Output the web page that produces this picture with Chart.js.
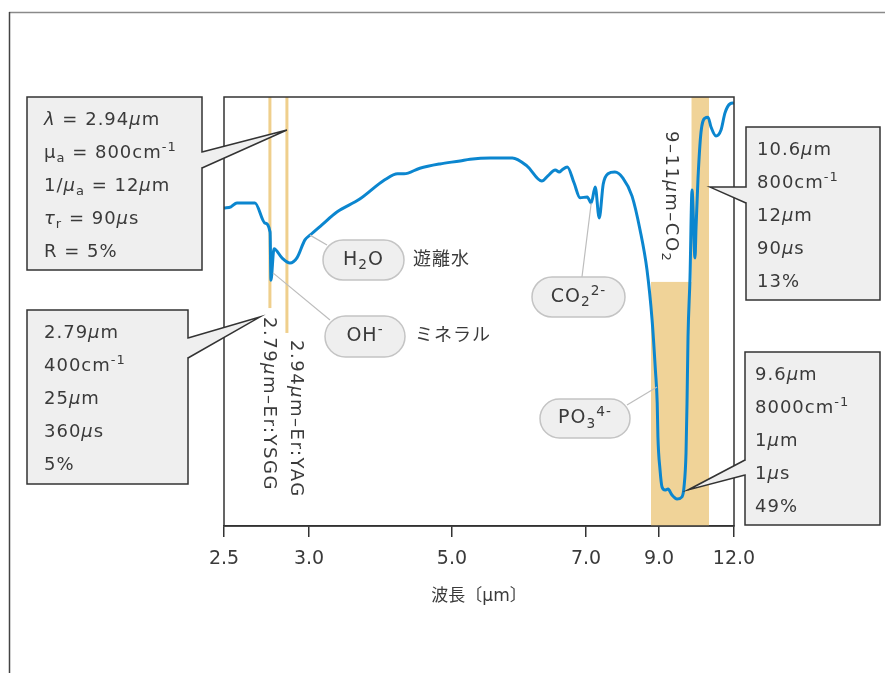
<!DOCTYPE html>
<html>
<head>
<meta charset="utf-8">
<script src="https://cdn.jsdelivr.net/npm/chart.js"></script>
<style>
html, body { margin: 0; padding: 0; background: #fff; }
canvas { display: block; }
</style>
</head>
<body>
<canvas id="chart" width="885" height="673"></canvas>
<script>
// x axis (wavelength, µm) - the axis is not linear in the original
const tickVals = [2.5, 3.0, 5.0, 7.0, 9.0, 12.0];
const tickLabels = ['2.5', '3.0', '5.0', '7.0', '9.0', '12.0'];

// spectrum: wavelength (µm) and relative level (0-100)
const wavelength = [2.50, 2.541, 2.576, 2.682, 2.741, 2.771, 2.776, 2.794, 2.841, 2.888,
  2.929, 2.976, 3.014, 3.18, 3.39, 3.71, 4.06, 4.24, 4.33, 4.55,
  4.83, 5.12, 5.27, 5.57, 5.90, 6.12, 6.34, 6.43, 6.54, 6.60,
  6.64, 6.72, 6.82, 6.91, 7.03, 7.14, 7.25, 7.36, 7.47, 7.60,
  7.79, 8.01, 8.26, 8.48, 8.67, 8.81, 8.90, 8.95, 8.97, 9.04,
  9.12, 9.24, 9.36, 9.52, 9.72, 9.92, 10.00, 10.08, 10.12, 10.16,
  10.24, 10.32, 10.44, 10.48, 10.56, 10.68, 10.84, 10.96, 11.08, 11.28,
  11.48, 11.64, 11.84, 12.0];
const level = [74.1, 74.4, 75.3, 75.3, 70.6, 68.5, 57.3, 64.6, 62.5, 61.3,
  62.5, 66.7, 67.8, 70.2, 73.2, 76.2, 80.7, 82.1, 82.1, 83.4,
  84.4, 85.1, 85.5, 85.8, 85.8, 83.9, 80.4, 81.6, 83.0, 82.5,
  83.0, 83.7, 80.0, 76.5, 76.7, 75.3, 79.0, 71.8, 79.7, 82.1,
  82.5, 81.1, 76.9, 69.0, 59.7, 48.0, 36.4, 28.7, 20.7, 13.1,
  9.1, 8.4, 8.6, 7.2, 6.3, 6.8, 9.1, 17.0, 28.7, 44.1,
  58.0, 78.3, 62.5, 69.5, 81.1, 91.8, 95.1, 95.3, 93.0, 90.9,
  92.3, 96.3, 98.4, 98.6];

// laser lines (µm) and how far down they reach (level)
const laserLines = [2.77, 2.87];
const laserLow = [50.8, 45.0];
// shaded bands (µm)
const co2Band = [10.3, 11.0];
const po3Band = [8.78, 11.0];
const po3Top = 56.9;

// where each tick sits along the axis (0..1)
const axisFrac = [0, 0.1667, 0.447, 0.710, 0.853, 1];

const FONT = "'DejaVu Sans', 'Noto Sans CJK JP', sans-serif";
const TEXT = '#3a3a3a';
const BAND = '#f0d398';
const BOXFILL = '#efefef';

function warp(v) {
  for (let i = 0; i < tickVals.length - 1; i++) {
    if (v <= tickVals[i + 1] || i === tickVals.length - 2) {
      const t = (v - tickVals[i]) / (tickVals[i + 1] - tickVals[i]);
      return axisFrac[i] + t * (axisFrac[i + 1] - axisFrac[i]);
    }
  }
}
function unwarp(f) {
  for (let i = 0; i < axisFrac.length - 1; i++) {
    if (f <= axisFrac[i + 1] || i === axisFrac.length - 2) {
      const t = (f - axisFrac[i]) / (axisFrac[i + 1] - axisFrac[i]);
      return tickVals[i] + t * (tickVals[i + 1] - tickVals[i]);
    }
  }
}

const Linear = Chart.LinearScale || Chart.registry.getScale('linear');
class WarpScale extends Linear {
  getPixelForValue(v) { return v == null ? NaN : this.getPixelForDecimal(warp(v)); }
  getValueForPixel(p) { return unwarp(this.getDecimalForPixel(p)); }
}
WarpScale.id = 'warp';
Chart.register(WarpScale);

// tiny rich text: {i:x} italic, {_:x} subscript, {^:x} superscript
function parseRich(s) {
  const out = [], re = /\{([i_^]):([^}]*)\}/g;
  let last = 0, m;
  while ((m = re.exec(s))) {
    if (m.index > last) out.push({ t: s.slice(last, m.index), k: '' });
    out.push({ t: m[2], k: m[1] });
    last = re.lastIndex;
  }
  if (last < s.length) out.push({ t: s.slice(last), k: '' });
  return out;
}
function segFont(k, size) {
  const sz = (k === '_' || k === '^') ? size * 0.72 : size;
  return (k === 'i' ? 'italic ' : '') + sz.toFixed(1) + 'px ' + FONT;
}
function richWidth(ctx, s, size) {
  return parseRich(s).reduce((w, p) => { ctx.font = segFont(p.k, size); return w + ctx.measureText(p.t).width; }, 0);
}
function drawRich(ctx, x, y, s, size, align) {
  let cx = align === 'center' ? x - richWidth(ctx, s, size) / 2 : x;
  ctx.textBaseline = 'middle';
  ctx.textAlign = 'left';
  parseRich(s).forEach(p => {
    ctx.font = segFont(p.k, size);
    const dy = p.k === '_' ? size * 0.3 : p.k === '^' ? -size * 0.3 : 0;
    ctx.fillText(p.t, cx, y + dy);
    cx += ctx.measureText(p.t).width;
  });
}

const boxes = [
  { x: 27, y: 97, w: 175, h: 173, side: 'right', b1: 152, b2: 168, tip: [2.87, 92.3], pad: 17,
    lines: ['{i:λ} = 2.94{i:µ}m', 'µ{_:a} = 800cm{^:-1}', '1/{i:µ}{_:a} = 12{i:µ}m', '{i:τ}{_:r} = 90{i:µ}s', 'R = 5%'] },
  { x: 27, y: 310, w: 161, h: 174, side: 'right', b1: 338, b2: 358, tip: [2.71, 48.7], pad: 17,
    lines: ['2.79{i:µ}m', '400cm{^:-1}', '25{i:µ}m', '360{i:µ}s', '5%'] },
  { x: 746, y: 127, w: 134, h: 173, side: 'left', b1: 187, b2: 203, tip: [11.04, 79.0], pad: 11,
    lines: ['10.6{i:µ}m', '800cm{^:-1}', '12{i:µ}m', '90{i:µ}s', '13%'] },
  { x: 745, y: 352, w: 135, h: 173, side: 'left', b1: 460, b2: 475, tip: [10.16, 8.4], pad: 10,
    lines: ['9.6{i:µ}m', '8000cm{^:-1}', '1{i:µ}m', '1{i:µ}s', '49%'] }
];

const pills = [
  { cx: 363.5, cy: 260, w: 81, h: 40, text: 'H{_:2}O', note: '遊離水', nx: 413, from: [3.014, 67.8], to: [327, 245] },
  { cx: 365, cy: 336.5, w: 80, h: 41, text: 'OH{^:-}', note: 'ミネラル', nx: 415, from: [2.788, 59.0], to: [330, 320] },
  { cx: 578.5, cy: 297, w: 93, h: 40, text: 'CO{_:2}{^:2-}', from: [7.14, 75.3], to: [582, 277] },
  { cx: 585, cy: 418.5, w: 90, h: 39, text: 'PO{_:3}{^:4-}', from: [8.945, 32.4], to: [627, 405] }
];

const sideLabels = [
  { x: 268.5, y: 317, text: '2.79{i:µ}m–Er:YSGG' },
  { x: 296, y: 340, text: '2.94{i:µ}m–Er:YAG' },
  { x: 671, y: 131, text: '9–11{i:µ}m–CO{_:2}' }
];

const decor = {
  id: 'decor',
  beforeDatasetsDraw(chart) {
    const { ctx, chartArea: a, scales: { x, y } } = chart;
    ctx.save();
    ctx.fillStyle = BAND;
    const p1 = x.getPixelForValue(po3Band[0]), p2 = x.getPixelForValue(po3Band[1]);
    const pt = y.getPixelForValue(po3Top);
    ctx.fillRect(p1, pt, p2 - p1, a.bottom - pt);
    const c1 = x.getPixelForValue(co2Band[0]), c2 = x.getPixelForValue(co2Band[1]);
    ctx.fillRect(c1, a.top, c2 - c1, a.bottom - a.top);
    ctx.strokeStyle = '#efcf8c';
    ctx.lineWidth = 3;
    laserLines.forEach((w, i) => {
      const px = x.getPixelForValue(w);
      ctx.beginPath();
      ctx.moveTo(px, a.top);
      ctx.lineTo(px, y.getPixelForValue(laserLow[i]));
      ctx.stroke();
    });
    ctx.restore();
  },
  afterDraw(chart) {
    const { ctx, chartArea: a, scales: { x, y } } = chart;
    ctx.save();
    // plot frame
    ctx.strokeStyle = '#333';
    ctx.lineWidth = 1.5;
    ctx.strokeRect(a.left, a.top, a.right - a.left, a.bottom - a.top);
    // page frame
    ctx.strokeStyle = '#8a8a8a';
    ctx.beginPath(); ctx.moveTo(9, 12.5); ctx.lineTo(885, 12.5); ctx.stroke();
    ctx.strokeStyle = '#444';
    ctx.beginPath(); ctx.moveTo(9.5, 12); ctx.lineTo(9.5, 673); ctx.stroke();

    // side labels, rotated
    ctx.fillStyle = TEXT;
    ctx.letterSpacing = '1.5px';
    sideLabels.forEach(l => {
      ctx.save();
      ctx.translate(l.x, l.y);
      ctx.rotate(Math.PI / 2);
      drawRich(ctx, 0, 0, l.text, 18, 'left');
      ctx.restore();
    });
    ctx.letterSpacing = '1px';

    // pills with leader lines
    pills.forEach(p => {
      ctx.strokeStyle = '#bdbdbd';
      ctx.lineWidth = 1.2;
      ctx.beginPath();
      ctx.moveTo(x.getPixelForValue(p.from[0]), y.getPixelForValue(p.from[1]));
      ctx.lineTo(p.to[0], p.to[1]);
      ctx.stroke();
    });
    pills.forEach(p => {
      ctx.beginPath();
      ctx.roundRect(p.cx - p.w / 2, p.cy - p.h / 2, p.w, p.h, p.h / 2);
      ctx.fillStyle = BOXFILL;
      ctx.fill();
      ctx.strokeStyle = '#c4c4c4';
      ctx.lineWidth = 1.5;
      ctx.stroke();
      ctx.fillStyle = TEXT;
      drawRich(ctx, p.cx, p.cy, p.text, 19, 'center');
      if (p.note) drawRich(ctx, p.nx, p.cy, p.note, 18, 'left');
    });

    // callout boxes
    boxes.forEach(b => {
      const ex = b.side === 'right' ? b.x + b.w : b.x;
      const tx = x.getPixelForValue(b.tip[0]), ty = y.getPixelForValue(b.tip[1]);
      ctx.fillStyle = BOXFILL;
      ctx.fillRect(b.x, b.y, b.w, b.h);
      ctx.strokeStyle = '#333';
      ctx.lineWidth = 1.5;
      ctx.strokeRect(b.x, b.y, b.w, b.h);
      ctx.beginPath();
      ctx.moveTo(ex, b.b1); ctx.lineTo(tx, ty); ctx.lineTo(ex, b.b2); ctx.closePath();
      ctx.fill();
      ctx.fillRect(ex - 1.5, b.b1 + 0.8, 3, b.b2 - b.b1 - 1.6);
      ctx.beginPath();
      ctx.moveTo(ex, b.b1); ctx.lineTo(tx, ty); ctx.lineTo(ex, b.b2);
      ctx.stroke();
      ctx.fillStyle = TEXT;
      b.lines.forEach((s, i) => drawRich(ctx, b.x + b.pad, b.y + 23 + i * 33, s, 18, 'left'));
    });
    ctx.restore();
  }
};

Chart.defaults.font.family = FONT;
Chart.defaults.color = TEXT;

new Chart(document.getElementById('chart'), {
  type: 'line',
  data: {
    datasets: [{
      data: wavelength.map((w, i) => ({ x: w, y: level[i] })),
      borderColor: '#0b86cf',
      borderWidth: 3,
      pointRadius: 0,
      cubicInterpolationMode: 'monotone',
      fill: false
    }]
  },
  options: {
    responsive: false,
    animation: false,
    layout: { padding: { left: 224, right: 151, top: 97, bottom: 0 } },
    plugins: { legend: { display: false }, tooltip: { enabled: false } },
    scales: {
      x: {
        type: 'warp',
        min: 2.5,
        max: 12,
        afterBuildTicks: s => { s.ticks = tickVals.map(v => ({ value: v })); },
        afterFit: s => { s.height = 147; },
        grid: { drawOnChartArea: false, drawTicks: true, tickLength: 11, color: '#333', lineWidth: 1.5 },
        border: { display: true, color: '#333', width: 1.5 },
        ticks: { callback: (v, i) => tickLabels[i], color: TEXT, font: { size: 19 }, padding: 11, maxRotation: 0, autoSkip: false },
        title: { display: true, text: '波長〔µm〕', color: TEXT, font: { size: 17 }, padding: { top: 0, bottom: 66 } }
      },
      y: { min: 0, max: 100, display: false }
    }
  },
  plugins: [decor]
});
</script>
</body>
</html>
